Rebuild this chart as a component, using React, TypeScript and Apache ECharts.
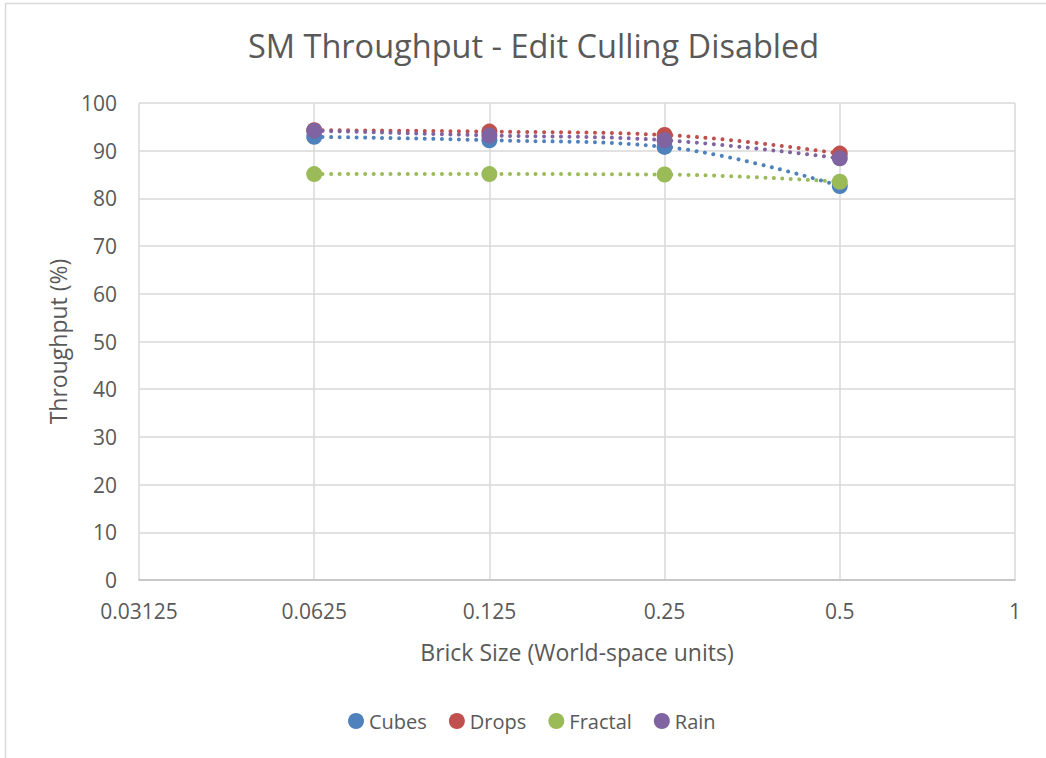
import React, { useEffect, useRef } from "react";
import * as echarts from "echarts";

// Brick sizes (world-space units) on a base-2 log axis
const brickSizes = [0.0625, 0.125, 0.25, 0.5];

// Throughput (%) per scene
const cubes = [92.9, 92.2, 90.8, 82.6];
const drops = [94.3, 94.0, 93.3, 89.4];
const fractal = [85.1, 85.1, 85.0, 83.5];
const rain = [94.2, 93.2, 92.2, 88.4];

const seriesNames = ["Cubes", "Drops", "Fractal", "Rain"];
const seriesValues = [cubes, drops, fractal, rain];
const seriesColors = ["#4F81BD", "#C0504D", "#9BBB59", "#8064A2"];

const FONT = "'Open Sans', 'Noto Sans', sans-serif";
const TEXT = "#595959";

export default function App() {
  const ref = useRef<HTMLDivElement>(null);

  useEffect(() => {
    if (!ref.current) return;
    const chart = echarts.init(ref.current, undefined, { renderer: "svg" });

    const series = seriesNames.map((name, i) => ({
      name,
      type: "line",
      smooth: 0.4,
      symbol: "circle",
      symbolSize: 16,
      data: brickSizes.map((x, j) => [x, seriesValues[i][j]]),
      itemStyle: { color: seriesColors[i] },
      lineStyle: {
        color: seriesColors[i],
        width: 4,
        type: [0.01, 8.5],
        cap: "round",
      },
      z: 2 + i,
    }));

    chart.setOption({
      animation: false,
      backgroundColor: "#ffffff",
      textStyle: { fontFamily: FONT, color: TEXT },
      title: {
        text: "SM Throughput - Edit Culling Disabled",
        left: 243,
        top: 24,
        textStyle: {
          fontFamily: FONT,
          fontSize: 32.5,
          fontWeight: "normal",
          color: TEXT,
        },
      },
      graphic: [
        {
          type: "rect",
          shape: { x: 5.5, y: 3.5, width: 1100, height: 800 },
          style: { fill: "none", stroke: "#D9D9D9", lineWidth: 1.5 },
          silent: true,
          z: -1,
        },
      ],
      legend: {
        bottom: 22,
        left: 343,
        icon: "circle",
        itemWidth: 16,
        itemHeight: 16,
        itemGap: 22,
        textStyle: { fontFamily: FONT, fontSize: 20, color: TEXT },
        data: seriesNames,
      },
      grid: { left: 139, right: 31, top: 103, bottom: 178, containLabel: false },
      xAxis: {
        type: "log",
        logBase: 2,
        min: 0.03125,
        max: 1,
        name: "Brick Size (World-space units)",
        nameLocation: "middle",
        nameGap: 60,
        nameTextStyle: { fontFamily: FONT, fontSize: 23, color: TEXT },
        axisLine: { show: true, lineStyle: { color: "#BFBFBF", width: 1.5 } },
        axisTick: { show: false },
        axisLabel: {
          fontFamily: FONT,
          fontSize: 21,
          color: TEXT,
          margin: 20,
          formatter: (v: number) => String(Number(v.toPrecision(6))),
        },
        splitLine: { show: true, lineStyle: { color: "#D9D9D9", width: 1.5 } },
      },
      yAxis: {
        type: "value",
        min: 0,
        max: 100,
        interval: 10,
        name: "Throughput (%)",
        nameLocation: "middle",
        nameGap: 70,
        nameRotate: 90,
        nameTextStyle: { fontFamily: FONT, fontSize: 23, color: TEXT },
        axisLine: { show: false },
        axisTick: { show: false },
        axisLabel: { fontFamily: FONT, fontSize: 21, color: TEXT, margin: 22 },
        splitLine: { show: true, lineStyle: { color: "#D9D9D9", width: 1.5 } },
      },
      series,
    });

    return () => chart.dispose();
  }, []);

  return (
    <div
      ref={ref}
      style={{ position: "fixed", left: 0, top: 0, width: 1046, height: 758 }}
    />
  );
}
